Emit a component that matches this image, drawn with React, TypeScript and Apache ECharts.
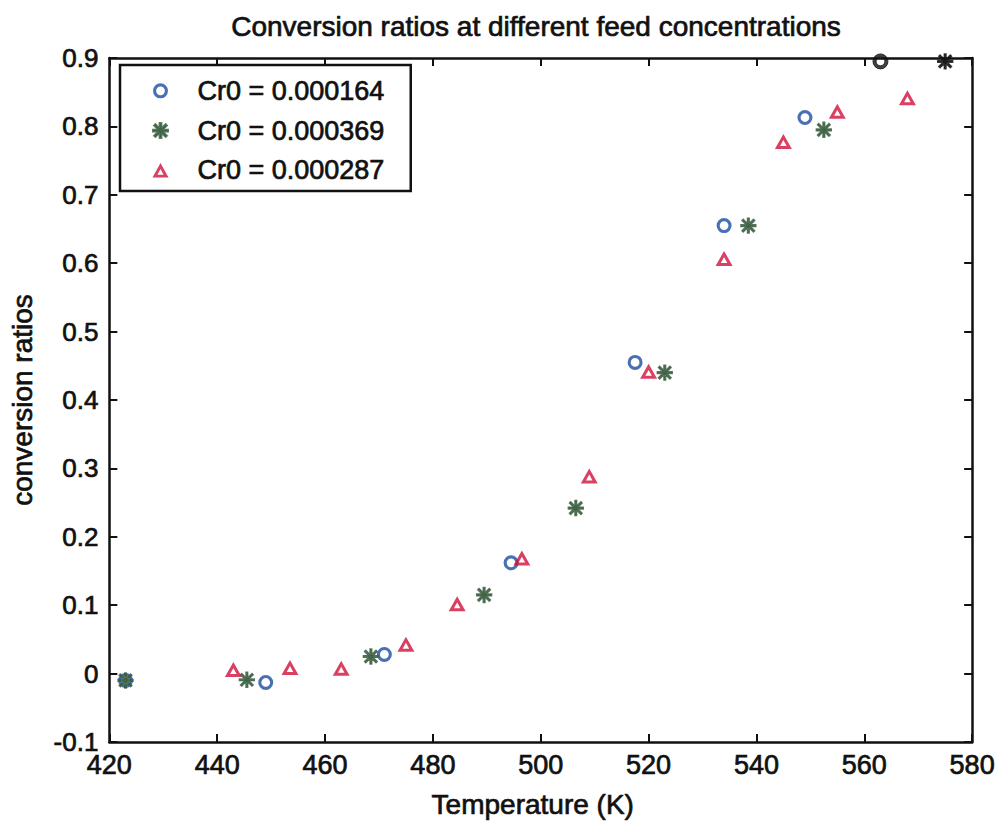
import React, { useEffect, useRef } from "react";
import * as echarts from "echarts";

const titleText = "Conversion ratios at different feed concentrations";
const xName = "Temperature (K)";
const yName = "conversion ratios";
const seriesNames = ["Cr0 = 0.000164", "Cr0 = 0.000369", "Cr0 = 0.000287"];

const blueX = [423, 449, 471, 494.5, 517.5, 534, 549, 563];
const blueY = [-0.01, -0.013, 0.028, 0.162, 0.455, 0.655, 0.813, 0.895];
const greenX = [423, 445.5, 468.5, 489.5, 506.5, 523, 538.5, 552.5, 575];
const greenY = [-0.01, -0.009, 0.025, 0.115, 0.242, 0.44, 0.655, 0.795, 0.895];
const redX = [443, 453.5, 463, 475, 484.5, 496.5, 509, 520, 534, 545, 555, 568];
const redY = [0.006, 0.009, 0.008, 0.043, 0.102, 0.169, 0.289, 0.442, 0.607, 0.778, 0.822, 0.842];

const xMin = 420, xMax = 580, xStep = 20;
const yMin = -0.1, yMax = 0.9, yStep = 0.1;

const FONT = "Liberation Sans";
const INK = "#111";
const ASTERISK =
  "path://M0 10.6H24V13.4H0Z M10.6 0H13.4V24H10.6Z M1.8 3.8L3.8 1.8L22.2 20.2L20.2 22.2Z M20.2 1.8L22.2 3.8L3.8 22.2L1.8 20.2Z";
const RING =
  "path://M0 12A12 12 0 1 1 24 12A12 12 0 1 1 0 12Z M5 12A7 7 0 1 0 19 12A7 7 0 1 0 5 12Z";
const TRI =
  "path://M12 0L24 22L0 22Z M12 9L7.4 17.6L16.6 17.6Z";

const heavy = { textBorderColor: INK, textBorderWidth: 0.7 };

function pts(xs: number[], ys: number[]) {
  return xs.map((x, i) => {
    const y = ys[i];
    const p: any = { value: [x, y] };
    if (y >= 0.89) p.itemStyle = { color: INK, borderColor: INK };
    return p;
  });
}

export default function App() {
  const ref = useRef<HTMLDivElement>(null);
  useEffect(() => {
    if (!ref.current) return;
    const chart = echarts.init(ref.current, undefined, { renderer: "svg" });
    const axisLine = { show: true, onZero: false, lineStyle: { color: INK, width: 2.5 } };
    const tick = { show: true, inside: true, length: 8, lineStyle: { color: INK, width: 2 } };
    chart.setOption({
      animation: false,
      backgroundColor: "#fff",
      title: {
        text: titleText,
        left: 531,
        top: 7,
        textAlign: "center",
        textStyle: { fontFamily: FONT, fontSize: 28, fontWeight: "normal", color: INK, ...heavy },
      },
      grid: { left: 107, right: 21, top: 58, bottom: 83, containLabel: false },
      legend: {
        orient: "vertical",
        left: 120,
        top: 65,
        padding: [12, 26, 7, 32],
        itemGap: 12,
        itemWidth: 16,
        itemHeight: 15,
        backgroundColor: "#fff",
        borderColor: INK,
        borderWidth: 2.5,
        borderRadius: 0,
        textStyle: { fontFamily: FONT, fontSize: 27, color: INK, padding: [0, 0, 0, 24], ...heavy },
        data: seriesNames,
      },
      xAxis: [
        {
          type: "value",
          min: xMin,
          max: xMax,
          interval: xStep,
          name: xName,
          nameLocation: "middle",
          nameGap: 48,
          nameTextStyle: { fontFamily: FONT, fontSize: 28, color: INK, padding: [0, 16, 0, 0], ...heavy },
          axisLine,
          axisTick: tick,
          splitLine: { show: false },
          axisLabel: { fontFamily: FONT, fontSize: 27, color: INK, margin: 9, ...heavy },
        },
        {
          type: "value",
          position: "top",
          min: xMin,
          max: xMax,
          interval: xStep,
          axisLine,
          axisTick: tick,
          splitLine: { show: false },
          axisLabel: { show: false },
        },
      ],
      yAxis: [
        {
          type: "value",
          min: yMin,
          max: yMax,
          interval: yStep,
          name: yName,
          nameLocation: "middle",
          nameGap: 73,
          nameTextStyle: { fontFamily: FONT, fontSize: 28, color: INK, ...heavy },
          axisLine,
          axisTick: tick,
          splitLine: { show: false },
          axisLabel: {
            fontFamily: FONT,
            fontSize: 26,
            color: INK,
            margin: 11,
            ...heavy,
            formatter: (v: number) => (Math.abs(v) < 1e-9 ? "0" : v.toFixed(1)),
          },
        },
        {
          type: "value",
          position: "right",
          min: yMin,
          max: yMax,
          interval: yStep,
          axisLine,
          axisTick: tick,
          splitLine: { show: false },
          axisLabel: { show: false },
        },
      ],
      series: [
        {
          name: seriesNames[0],
          type: "scatter",
          symbol: RING,
          symbolSize: 15,
          clip: false,
          itemStyle: { color: "#1a4ca0" },
          data: pts(blueX, blueY),
        },
        {
          name: seriesNames[1],
          type: "scatter",
          symbol: ASTERISK,
          symbolSize: 15,
          clip: false,
          itemStyle: { color: "#3a5c40", borderColor: "#3a5c40", borderWidth: 1.4 },
          data: pts(greenX, greenY),
        },
        {
          name: seriesNames[2],
          type: "scatter",
          symbol: TRI,
          symbolSize: [17, 15],
          clip: false,
          itemStyle: { color: "#d0103a" },
          data: pts(redX, redY),
        },
      ],
    });
    return () => chart.dispose();
  }, []);
  return (
    <div
      ref={ref}
      style={{ position: "fixed", left: 0, top: 0, width: 998, height: 825, background: "#fff" }}
    />
  );
}
